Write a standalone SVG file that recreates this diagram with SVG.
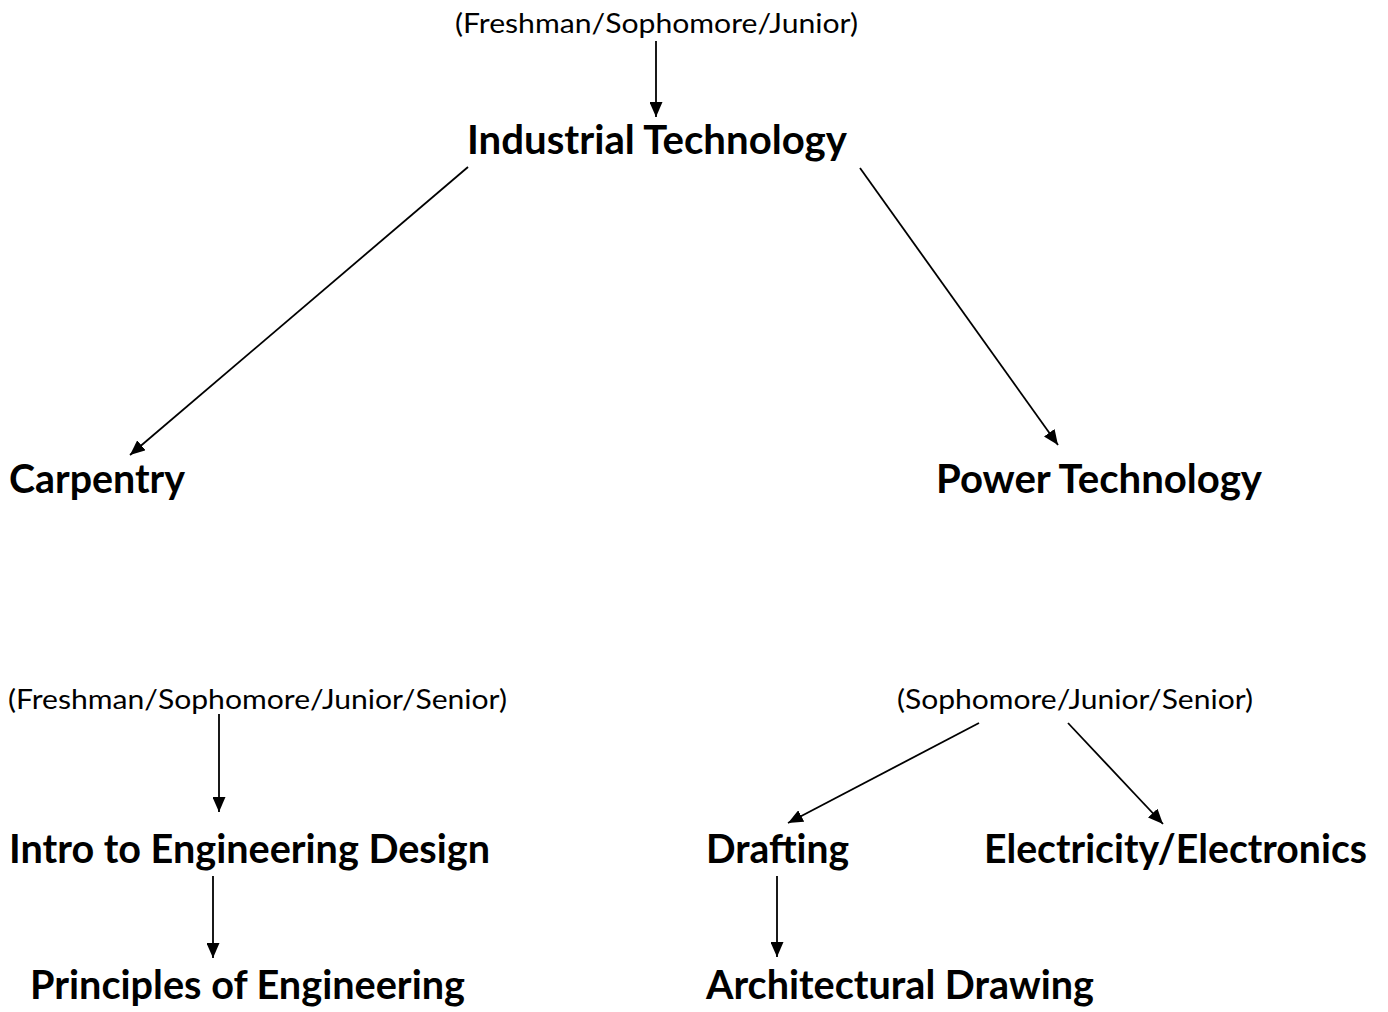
<svg xmlns="http://www.w3.org/2000/svg" width="1388" height="1012" viewBox="0 0 1388 1012">
<style>
.s{font-family:Lato,"Open Sans","Liberation Sans",sans-serif;font-size:26px;fill:#000}
.b{font-family:Lato,"Open Sans","Liberation Sans",sans-serif;font-size:41px;font-weight:bold;fill:#000}
.c{stroke:#000;stroke-width:1.8;fill:none;marker-end:url(#ah)}
</style>
<defs>
<marker id="ah" viewBox="0 0 15 13" refX="15" refY="6.5" markerWidth="15" markerHeight="13" markerUnits="userSpaceOnUse" orient="auto">
<path d="M0,0 L15,6.5 L0,13 Z" fill="#000"/>
</marker>
</defs>
<rect width="1388" height="1012" fill="#fff"/>
<g id="connectors">
<line class="c" x1="656" y1="41" x2="656" y2="117"/>
<line class="c" x1="468" y1="167" x2="130" y2="455"/>
<line class="c" x1="860" y1="168" x2="1058" y2="445"/>
<line class="c" x1="219" y1="714" x2="219" y2="812"/>
<line class="c" x1="213" y1="876" x2="213" y2="958"/>
<line class="c" x1="979" y1="723" x2="788" y2="823"/>
<line class="c" x1="1068" y1="723" x2="1163" y2="824"/>
<line class="c" x1="777" y1="876" x2="777" y2="957"/>
</g>
<g id="n_fsj"><text class="s" x="455" y="33" textLength="403" lengthAdjust="spacingAndGlyphs">(Freshman/Sophomore/Junior)</text></g>
<g id="n_industrial"><text class="b" x="467" y="154" textLength="380" lengthAdjust="spacingAndGlyphs">Industrial Technology</text></g>
<g id="n_carpentry"><text class="b" x="9" y="493" textLength="176" lengthAdjust="spacingAndGlyphs">Carpentry</text></g>
<g id="n_power"><text class="b" x="936" y="493" textLength="326" lengthAdjust="spacingAndGlyphs">Power Technology</text></g>
<g id="n_fsjs"><text class="s" x="8" y="709" textLength="499" lengthAdjust="spacingAndGlyphs">(Freshman/Sophomore/Junior/Senior)</text></g>
<g id="n_sjs"><text class="s" x="897" y="709" textLength="356" lengthAdjust="spacingAndGlyphs">(Sophomore/Junior/Senior)</text></g>
<g id="n_intro"><text class="b" x="9" y="863" textLength="481" lengthAdjust="spacingAndGlyphs">Intro to Engineering Design</text></g>
<g id="n_principles"><text class="b" x="30" y="999" textLength="435" lengthAdjust="spacingAndGlyphs">Principles of Engineering</text></g>
<g id="n_drafting"><text class="b" x="706" y="863" textLength="143" lengthAdjust="spacingAndGlyphs">Drafting</text></g>
<g id="n_electricity"><text class="b" x="984" y="863" textLength="383" lengthAdjust="spacingAndGlyphs">Electricity/Electronics</text></g>
<g id="n_arch"><text class="b" x="706" y="999" textLength="388" lengthAdjust="spacingAndGlyphs">Architectural Drawing</text></g>
</svg>
